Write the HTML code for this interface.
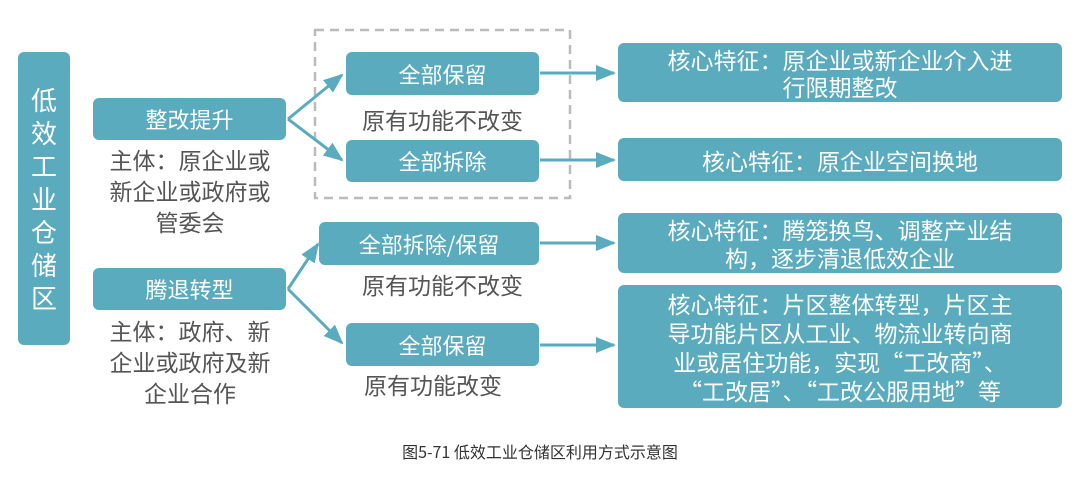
<!DOCTYPE html>
<html><head><meta charset="utf-8"><style>
body{margin:0;width:1080px;height:482px;background:#fff;position:relative;overflow:hidden;font-family:"Noto Sans CJK SC","Liberation Sans",sans-serif}
.b{position:absolute;background:#5aabbd;color:#fff;border-radius:6px;display:flex;align-items:center;justify-content:center;text-align:center;font-size:22px;line-height:30px}
.t{position:absolute;color:#555;font-size:22px;line-height:31px;text-align:center}
</style></head><body>
<svg width="1080" height="482" style="position:absolute;left:0;top:0">
<defs>
<marker id="c" markerWidth="20" markerHeight="16" refX="18" refY="8" orient="auto" markerUnits="userSpaceOnUse"><path d="M0,0 L20,8 L0,16 z" fill="#5aabbd"/></marker></defs>
<rect x="315" y="30" width="255" height="168" fill="none" stroke="#bbb" stroke-width="2.5" stroke-dasharray="9,6"/>
<g stroke="#5aabbd" stroke-width="3" fill="none">
<line x1="288" y1="119" x2="342" y2="160" marker-end="url(#c)"/>
<line x1="288" y1="119" x2="342" y2="75" marker-end="url(#c)"/>
<line x1="288" y1="289" x2="318" y2="244" marker-end="url(#c)"/>
<line x1="288" y1="289" x2="342" y2="343" marker-end="url(#c)"/>
<line x1="540" y1="73" x2="614" y2="73" marker-end="url(#c)"/>
<line x1="540" y1="160" x2="614" y2="160" marker-end="url(#c)"/>
<line x1="540" y1="243" x2="614" y2="243" marker-end="url(#c)"/>
<line x1="540" y1="345" x2="614" y2="345" marker-end="url(#c)"/>
</g></svg>
<div class="b" style="left:18px;top:52px;width:52px;height:293px;font-size:26px;line-height:33px">低<br>效<br>工<br>业<br>仓<br>储<br>区</div>
<div class="b" style="left:93px;top:98px;width:193px;height:42px">整改提升</div>
<div class="t" style="left:85px;top:144px;width:210px;font-size:23px">主体：原企业或<br>新企业或政府或<br>管委会</div>
<div class="b" style="left:346px;top:52px;width:193px;height:43px">全部保留</div>
<div class="t" style="left:340px;top:104px;width:205px;font-size:23px">原有功能不改变</div>
<div class="b" style="left:346px;top:140px;width:193px;height:42px">全部拆除</div>
<div class="b" style="left:618px;top:43px;width:444px;height:59px;line-height:27px;font-size:23px">核心特征：原企业或新企业介入进<br>行限期整改</div>
<div class="b" style="left:618px;top:138px;width:444px;height:43px;font-size:23px">核心特征：原企业空间换地</div>
<div class="b" style="left:93px;top:268px;width:193px;height:42px">腾退转型</div>
<div class="t" style="left:85px;top:315px;width:210px;font-size:23px">主体：政府、新<br>企业或政府及新<br>企业合作</div>
<div class="b" style="left:319px;top:222px;width:220px;height:43px">全部拆除/保留</div>
<div class="t" style="left:340px;top:269px;width:205px;font-size:23px">原有功能不改变</div>
<div class="b" style="left:346px;top:323px;width:193px;height:43px">全部保留</div>
<div class="t" style="left:333px;top:369px;width:200px;font-size:23px">原有功能改变</div>
<div class="b" style="left:618px;top:213px;width:444px;height:60px;line-height:28px;font-size:23px">核心特征：腾笼换鸟、调整产业结<br>构，逐步清退低效企业</div>
<div class="b" style="left:618px;top:285px;width:444px;height:123px;line-height:29px;font-size:23px">核心特征：片区整体转型，片区主<br>导功能片区从工业、物流业转向商<br>业或居住功能，实现“工改商”、<br>“工改居”、“工改公服用地”等</div>
<div style="position:absolute;left:0;width:1080px;top:439px;text-align:center;font-size:16px;color:#333">图5-71 低效工业仓储区利用方式示意图</div>
</body></html>
